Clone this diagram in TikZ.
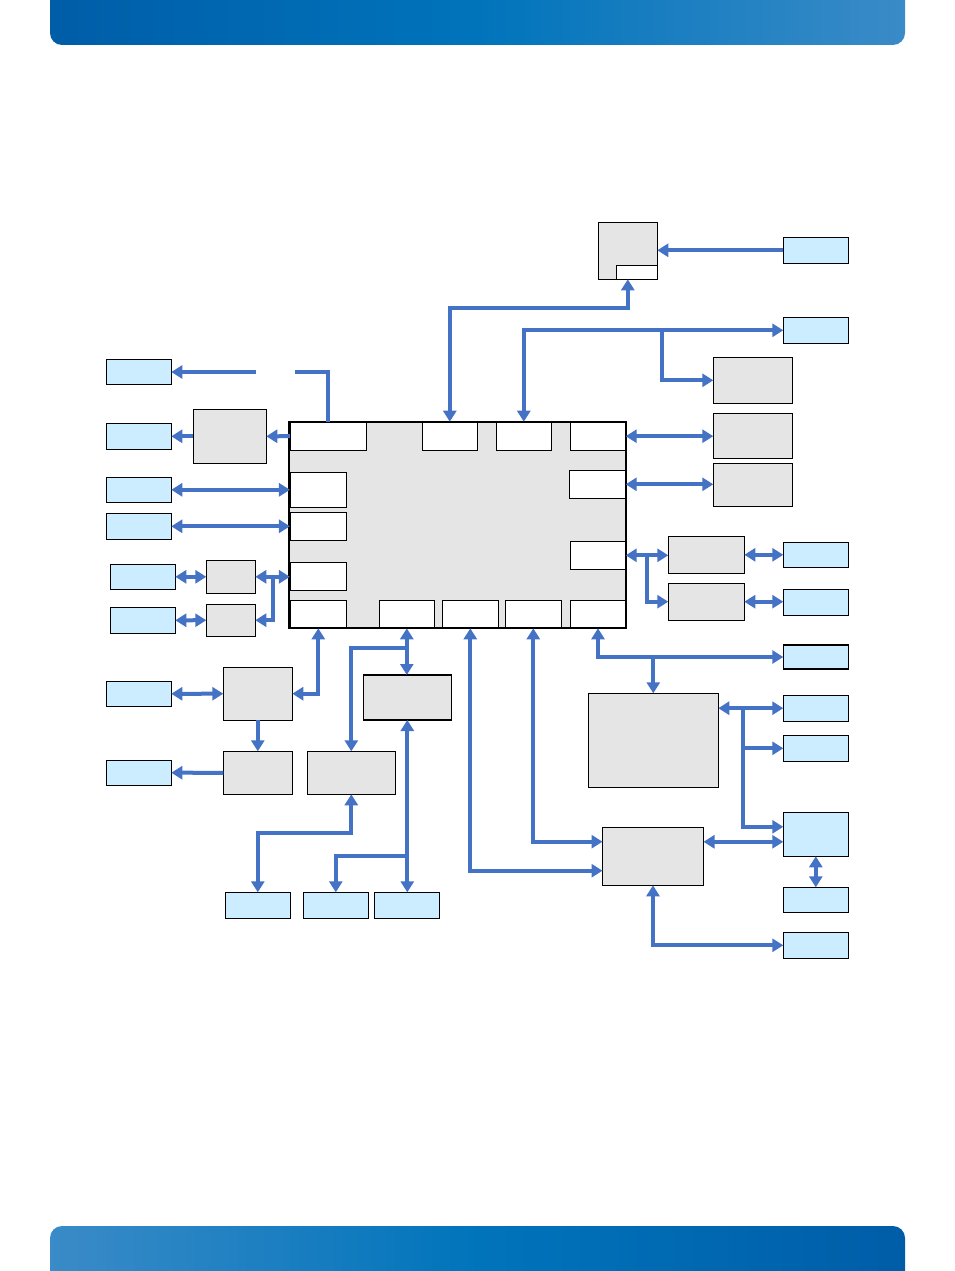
\documentclass[tikz,border=0pt]{standalone}
\usetikzlibrary{arrows.meta,calc}
\definecolor{portblue}{RGB}{204,236,255}
\definecolor{unitgray}{RGB}{229,229,229}
\definecolor{linkblue}{RGB}{68,114,196}
\definecolor{bardark}{RGB}{0,93,168}
\definecolor{barmid}{RGB}{0,116,187}
\definecolor{barlight}{RGB}{58,139,199}
\begin{document}
\begin{tikzpicture}[x=1pt, y=-1pt,
    >={Triangle[length=11pt,width=13pt]},
    blk/.style={draw=black, line width=1.2pt, inner sep=0pt, outer sep=0pt},
    port/.style={blk, fill=portblue},
    unit/.style={blk, fill=unitgray},
    slot/.style={blk, fill=white},
    wh/.style 2 args={minimum width=#1pt, minimum height=#2pt},
    link/.style={draw=linkblue, line width=4pt}
]
\useasboundingbox (0,0) rectangle (954,1271);
% header and footer bars
\shade[left color=bardark, right color=barlight, middle color=barmid, rounded corners=12pt] (50,-30) rectangle (905,45);
\shade[left color=barlight, right color=bardark, middle color=barmid, rounded corners=12pt] (50,1226) rectangle (905,1300);

% processor module with its interfaces
\node[unit, wh={336.4}{206.6}] (cpu) at (457.5,525) {};
\node[slot, wh={76.7}{29}] (t1) at (328.3,436.2) {};
\node[slot, wh={55}{29}] (t2) at (449.8,436.2) {};
\node[slot, wh={55}{29}] (t3) at (523.8,436.2) {};
\node[slot, wh={55.4}{29}] (t4) at (598,436.2) {};
\node[slot, wh={56.4}{28}] (e2) at (597.5,484.3) {};
\node[slot, wh={55.4}{28}] (e3) at (598,555.3) {};
\node[slot, wh={56.7}{35}] (w2) at (318.3,489.8) {};
\node[slot, wh={56.7}{28}] (w3) at (318.3,526.3) {};
\node[slot, wh={56.7}{28}] (w4) at (318.3,576.3) {};
\node[slot, wh={56.7}{28}] (s1) at (318.3,614.3) {};
\node[slot, wh={55}{28}] (s2) at (406.8,614.3) {};
\node[slot, wh={56}{28}] (s3) at (470.3,614.3) {};
\node[slot, wh={56}{28}] (s4) at (533.3,614.3) {};
\node[slot, wh={55.4}{28}] (s5) at (598,614.3) {};
\draw[line width=2pt] (cpu.north west) rectangle (cpu.south east);

% gray units
\node[unit, wh={73}{54}] (g1) at (229.8,436.3) {};
\node[unit, wh={49}{33}] (g2) at (230.8,576.8) {};
\node[unit, wh={49}{32}] (g3) at (230.8,620.2) {};
\node[unit, wh={69}{53}] (g4) at (257.8,693.7) {};
\node[unit, wh={69}{43}] (g5) at (257.8,772.8) {};
\node[unit, wh={88}{43}] (g6) at (351.3,772.8) {};
\node[unit, wh={88}{45}] (g7) at (407.3,697.5) {};
\node[unit, wh={130}{94}] (g8) at (653.3,740.3) {};
\node[unit, wh={101}{58}] (g9) at (653,856.3) {};
\node[unit, wh={59}{57}] (g10) at (627.8,250.8) {};
\node[slot, wh={41}{14}] (g10slot) at (636.8,272.3) {};
\node[unit, wh={79}{46}] (g11) at (752.8,380.3) {};
\node[unit, wh={79}{45}] (g12) at (752.8,435.8) {};
\node[unit, wh={79}{43.4}] (g13) at (752.8,485) {};
\node[unit, wh={76}{37}] (g14) at (706.3,554.8) {};
\node[unit, wh={76}{37}] (g15) at (706.3,601.7) {};

% blue ports
\node[port, wh={65}{25}] (l1) at (138.8,371.8) {};
\node[port, wh={65}{26}] (l2) at (138.8,436.3) {};
\node[port, wh={65}{25}] (l3) at (138.8,489.8) {};
\node[port, wh={65}{26}] (l4) at (138.8,526.3) {};
\node[port, wh={65}{25}] (l5) at (142.8,576.8) {};
\node[port, wh={65}{26}] (l6) at (142.8,620.3) {};
\node[port, wh={65}{25}] (l7) at (138.8,693.8) {};
\node[port, wh={65}{25}] (l8) at (138.8,772.7) {};
\node[port, wh={65}{26}] (b1) at (257.8,905.3) {};
\node[port, wh={65}{26}] (b2) at (335.8,905.3) {};
\node[port, wh={65}{26}] (b3) at (406.8,905.3) {};
\node[port, wh={65}{26}] (r1) at (815.8,250.3) {};
\node[port, wh={65}{26}] (r2) at (815.8,330.3) {};
\node[port, wh={65}{25}] (r3) at (815.8,554.8) {};
\node[port, wh={65}{26}] (r4) at (815.8,602.3) {};
\node[port, wh={65}{24}] (r5) at (815.8,657) {};
\node[port, wh={65}{26}] (r6) at (815.8,708.2) {};
\node[port, wh={65}{26}] (r7) at (815.8,748.3) {};
\node[port, wh={65}{44}] (r8) at (815.8,834.3) {};
\node[port, wh={65}{25}] (r9) at (815.8,899.8) {};
\node[port, wh={65}{26}] (r10) at (815.8,945.3) {};

% branch points
\coordinate (gapr) at (295,372);
\coordinate (gapl) at (256,372);
\coordinate (j4) at ($(r2.west)+(-121,0)$);
\coordinate (j5) at ($(e3.east)+(21.6,0)$);
\coordinate (j6) at ($(r6.west)+(-40,0)$);

% left side links
\draw[link] (t1.north) |- (gapr);
\draw[link,->] (gapl) -- (gapl -| l1.east);
\draw[link,->] (t1.west) -- (g1.east);
\draw[link,->] (g1.west) -- (l2.east);
\draw[link,<->] (l3.east) -- (w2.west);
\draw[link,<->] (l4.east) -- (w3.west);
\draw[link,<->] (l5.east) -- (g2.west);
\draw[link,<->] (l6.east) -- (g3.west);
\draw[link,<->] (g2.east) -- (g2.east -| w4.west);
\draw[link,->] ($(g2.east)!0.5!(g2.east -| w4.west)$) |- (g3.east);
\draw[link,<->] (l7.east) -- (g4.west);
\draw[link,<->] (g4.east) -| (s1.south);
\draw[link,->] (g4.south) -- (g5.north);
\draw[link,->] (g5.west) -- (l8.east);

% bottom links
\draw[link,<->] (s2.south) -- (s2.south |- g7.north);
\draw[link,->] ($(s2.south)+(0,20)$) -| (g6.north);
\draw[link,<->] (g7.south) -- (g7.south |- b3.north);
\draw[link,->] ($(g7.south)+(0,136)$) -| (b2.north);
\draw[link,<->] (g6.south) -- ++(0,39) -| (b1.north);
\draw[link,<->] (s4.south) |- ($(g9.west)+(0,-14.6)$);
\draw[link,<->] (s3.south) |- ($(g9.west)+(0,14.4)$);

% right side links
\draw[link,<->] (t2.north) |- ($(g10.south)+(0,29)$) -- (g10.south);
\draw[link,->] (r1.west) -- (r1.west -| g10.east);
\draw[link,<->] (t3.north) |- (r2.west);
\draw[link,->] (j4) |- (g11.west);
\draw[link,<->] (t4.east) -- (t4.east -| g12.west);
\draw[link,<->] (e2.east) -- (e2.east -| g13.west);
\draw[link,<->] (e3.east) -- (e3.east -| g14.west);
\draw[link,->] (j5) |- (g15.west);
\draw[link,<->] (g14.east) -- (g14.east -| r3.west);
\draw[link,<->] (g15.east) -- (g15.east -| r4.west);
\draw[link,<->] (s5.south) |- (r5.west);
\draw[link,->] (g8.north |- r5.west) -- (g8.north);
\draw[link,<->] (g8.north east |- r6.west) -- (r6.west);
\draw[link,->] (j6) |- (r7.west);
\draw[link,->] (j6) |- ($(r8.west)+(0,-7.5)$);
\draw[link,<->] ($(g9.east |- r8.west)+(0,7.5)$) -- ($(r8.west)+(0,7.5)$);
\draw[link,<->] (r8.south) -- (r9.north);
\draw[link,<->] (g9.south) |- (r10.west);
\end{tikzpicture}
\end{document}
